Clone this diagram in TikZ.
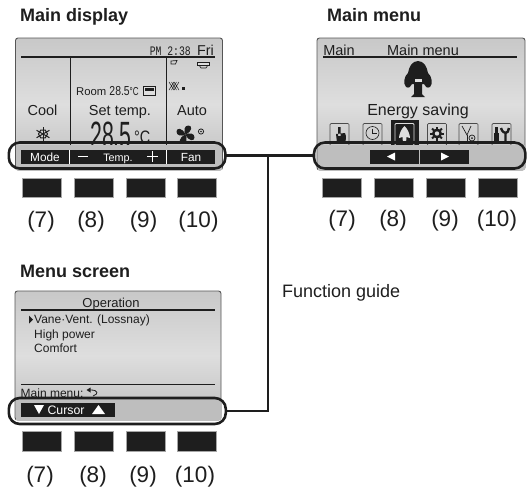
\documentclass[tikz,border=0pt]{standalone}
\usepackage{fontspec}
\setmainfont{Liberation Sans}
\newfontfamily\monof{Liberation Mono}
\newcommand{\fs}[1]{\fontsize{#1}{#1}\selectfont}
\definecolor{ink}{HTML}{1E1E1E}
\definecolor{lcdtop}{HTML}{C8C8C8}
\definecolor{lcdmid}{HTML}{DEDEDE}
\definecolor{lcdbot}{HTML}{BEBEBE}
\tikzset{
  screen/.style={rounded corners=2.5pt,draw=ink!75,line width=.9pt,outer sep=0pt,top color=lcdtop,bottom color=lcdbot,middle color=lcdmid,minimum width=#1,minimum height=132pt,inner sep=0pt},
  pill/.style={rounded corners=11pt,draw=ink,line width=2.6pt,outer sep=0pt,minimum height=26pt,minimum width=#1,inner sep=0pt},
  wire/.style={draw=ink,line width=2.6pt},
  rulethick/.style={draw=ink,line width=1.6pt},
  rulethin/.style={draw=ink,line width=.8pt},
  btn/.style={fill=ink,draw=gray!70,line width=.9pt,minimum width=39pt,minimum height=19.5pt,inner sep=0pt},
  captxt/.style={inner sep=0pt,font=\fs{22.5},text=ink,anchor=base},
  ttl/.style={inner sep=0pt,font=\bfseries\fs{18},text=ink,anchor=base west},
  lbl/.style={inner sep=0pt,font=\fs{14.5},text=ink,anchor=base},
  itemtxt/.style={inner sep=0pt,font=\fs{12},text=ink,anchor=base west},
  keytxt/.style={inner sep=0pt,font=\fs{11.8},text=white,anchor=base},
  barbox/.style={fill=ink,inner sep=0pt,outer sep=0pt,minimum height=14pt},
  icobox/.style={draw=ink!80,line width=.7pt,rounded corners=1pt,outer sep=0pt,minimum width=19pt,minimum height=22pt,inner sep=0pt,anchor=north},
}
\begin{document}
\begin{tikzpicture}[x=1pt,y=-1pt]
\useasboundingbox (0,0) rectangle (531,488);

%--------- Titles
\node[ttl] (t1) at (20,21) {Main display};
\node[ttl] (t2) at (327,21) {Main menu};
\node[ttl] (t3) at (20,277) {Menu screen};
\node[inner sep=0pt,font=\fs{18},text=ink,anchor=base west] (fg) at (282,297) {Function guide};

%--------- Main display screen
\node[screen=207pt,anchor=north west] (s1) at (15.5,38) {};
\draw[rulethick] (21,57) -- (215,57);
\draw[rulethin] (70.5,57) -- (70.5,148);
\draw[rulethin] (166.5,57) -- (166.5,148);
\node[inner sep=0pt,anchor=base east,text=ink] (clock) at (191,55) {\monof\fs{13}\scalebox{.75}[1]{PM 2:38}};
\node[inner sep=0pt,anchor=base east,text=ink,font=\fs{14.3}] (day) at (214,55) {Fri};
\node[inner sep=0pt,anchor=base west,text=ink,font=\fs{11.3}] (room) at (76,95.5) {Room \scalebox{.8}[1]{\fs{13}28.5}\scalebox{.7}[1]{\fs{11.5}°C}};
\draw[ink,line width=.8pt,fill=lcdmid] (143.5,86) rectangle (155.5,95);
\fill[ink] (145,87.5) rectangle (154,91);
\node[lbl] (cool) at (42.5,115) {Cool};
\node[lbl] (set) at (120,115) {Set temp.};
\node[lbl] (auto) at (192,115) {Auto};
\node[inner sep=0pt,anchor=base,text=ink,font=\fs{38}] (big) at (111,148) {\scalebox{.56}[1]{28.5}};
\node[inner sep=0pt,anchor=base west,text=ink,font=\fs{18}] (bigc) at (134,143) {\scalebox{.8}[1]{°C}};
% snowflake
\begin{scope}[shift={(43,134)}]
  \foreach \a in {0,60,120} \draw[ink,line width=1pt] (\a+90:7.5) -- (\a+270:7.5);
  \draw[ink,line width=1pt] (0:4.5) -- (60:4.5) -- (120:4.5) -- (180:4.5) -- (240:4.5) -- (300:4.5) -- cycle;
\end{scope}
% fan
\begin{scope}[shift={(185.5,134.5)}]
  \foreach \a in {0,90,180,270}
    \fill[ink,rotate=\a] (0,0) .. controls (-2,-4) and (-1.5,-9) .. (3,-9) .. controls (7,-9) and (7,-3) .. (0,0) -- cycle;
  \draw[ink,line width=.8pt] (15.5,-3) circle (2.6);
  \fill[ink] (15.5,-3) circle (.9);
\end{scope}
% wind and vane symbols
\draw[ink,line width=.7pt] (171,61) -- (177,60.5) -- (175.5,64) -- (171,64) -- cycle;
\draw[ink,line width=.8pt,fill=lcdmid] (197,62) rectangle (209,65);
\draw[ink,line width=.6pt] (199,65) -- (201,68) -- (206,68) -- (208,65);
\begin{scope}[shift={(175,86)}]
  \foreach \a in {0,1,2}
    \draw[ink,line width=.5pt] (-6+\a*2.5,-4) -- (-1+\a*2.5,4) (-1+\a*2.5,-4) -- (-6+\a*2.5,4);
\end{scope}
\fill[ink] (182,87) rectangle (185,90);

\fill[lcdbot] (16,145) rectangle (221.5,169.5);
\node[barbox,anchor=north west,minimum width=194pt] (bar1) at (21,149.5) {};
\draw[white,line width=.6pt] (69.5,149.5) -- (69.5,163.5) (166.5,149.5) -- (166.5,163.5);
\node[keytxt] (mode) at (45,161) {Mode};
\node[keytxt,font=\fs{10.8}] (temp) at (118,161) {Temp.};
\node[keytxt] (fan) at (191,161) {Fan};
\fill[white] (78,155.5) rectangle (88,157);
\fill[white] (147,155.5) rectangle (158,157);
\fill[white] (151.7,151) rectangle (153.3,162);
\node[pill=216.6pt,anchor=north west] (p1) at (8.8,142.5) {};

%--------- Main menu screen
\node[screen=208pt,anchor=north west] (s2) at (317,38) {};
\draw[rulethick] (323,57) -- (517,57);
\node[lbl] (mm0) at (339,55) {Main};
\node[lbl] (mm1) at (423,55) {Main menu};
\node[inner sep=0pt,font=\fs{16},text=ink,anchor=base] (es) at (418,115.5) {Energy saving};
% tree
\fill[ink] (418,61) .. controls (412,61) and (409,67) .. (408,73)
  .. controls (404,76) and (403,84) .. (406,87) .. controls (409,89) and (411,86) .. (412,84)
  -- (414,84) -- (414,94) .. controls (413,95) and (412,96) .. (411,97) -- (425,97)
  .. controls (424,96) and (423,95) .. (422,94) -- (422,84) -- (424,84)
  .. controls (425,86) and (427,89) .. (430,87) .. controls (433,84) and (432,76) .. (428,73)
  .. controls (427,67) and (424,61) .. (418,61) -- cycle;
\fill[lcdmid] (414.5,79) rectangle (421.5,82);
% icon row
\node[icobox] (i1) at (339.5,123.5) {};
\node[icobox] (i2) at (372.5,123.5) {};
\fill[ink] (390.5,119.5) rectangle (418.5,146);
\node[icobox,draw=lcdmid,line width=.9pt] (i3) at (404.5,123.5) {};
\node[icobox] (i4) at (437,123.5) {};
\node[icobox] (i5) at (468.5,123.5) {};
\node[icobox] (i6) at (501.5,123.5) {};
% hand
\fill[ink] (338,127) rectangle (340.5,136) (336,134) -- (345,133) .. controls (346.5,136) and (346,140) .. (345,143) -- (337,143) -- cycle;
% clock
\draw[ink,line width=.6pt] (372.5,133) circle (6.5);
\draw[ink,line width=.6pt] (372.5,128.5) -- (372.5,133) -- (376.5,133);
% selected: small tree
\fill[lcdmid] (404.5,126) .. controls (401,129) and (399,135) .. (399,138) -- (402.5,137) -- (403,143) -- (406,143) -- (406.5,137) -- (410,138) .. controls (410,135) and (408,129) .. (404.5,126) -- cycle;
% gear
\foreach \a in {0,45,...,315} \draw[ink,line width=2pt] (437,133.5) -- +(\a:7);
\fill[ink] (437,133.5) circle (5);
\fill[lcdmid] (437,133.5) circle (2.2);
% service
\draw[ink,line width=.7pt] (462,126) -- (467,135) -- (471,126);
\draw[ink,line width=.7pt] (467,135) -- (467,141);
\draw[ink,line width=.7pt] (472,138) circle (3);
\fill[ink] (472,138) circle (1);
% tools
\fill[ink] (495,127) rectangle (497.5,133);
\fill[ink] (494,133) rectangle (498.5,143);
\draw[ink,line width=2.4pt] (501,128) .. controls (502,132) and (505,133) .. (505.5,133) -- (505.5,143);
\draw[ink,line width=2.4pt] (509,128) .. controls (509,131) and (507,133) .. (505.5,133);

\fill[lcdbot] (317.5,145) rectangle (524.5,169.5);
\node[barbox,anchor=north west,minimum width=48.5pt] (bar2a) at (370,149.5) {};
\node[barbox,anchor=north west,minimum width=48.5pt] (bar2b) at (420,149.5) {};
\fill[white] (395,152.5) -- (395,160.5) -- (387,156.5) -- cycle;
\fill[white] (441,152.5) -- (441,160.5) -- (449,156.5) -- cycle;
\node[pill=211.4pt,anchor=north west] (p2) at (314,142.5) {};

%--------- Menu screen
\node[screen=206pt,minimum height=129pt,anchor=north west] (s3) at (15,291) {};
\draw[rulethick] (21,310) -- (215,310);
\draw[rulethin] (21,384) -- (215,384);
\node[inner sep=0pt,font=\fs{13},text=ink,anchor=base] (op) at (111,307.5) {Operation};
\fill[ink] (29,315.5) -- (29,323.5) -- (33,319.5) -- cycle;
\node[itemtxt] (v1) at (34,323) {Vane·Vent. (Lossnay)};
\node[itemtxt] (v2) at (34,338) {High power};
\node[itemtxt] (v3) at (34,352) {Comfort};
\node[itemtxt,font=\fs{12}] (mback) at (20.5,397) {Main menu:};
\draw[ink,line width=.8pt] (93,396) .. controls (99,394) and (98,390) .. (91,390) -- (89,390);
\fill[ink] (90.5,387.5) -- (90.5,392.5) -- (86.5,390) -- cycle;
\fill[lcdbot] (15.5,398.5) rectangle (220.5,419.5);
\node[barbox,anchor=north west,minimum width=94pt] (bar3) at (21,402.5) {};
\node[keytxt,font=\fs{12.3}] (cur) at (66,414) {Cursor};
\fill[white] (34,405) -- (44,405) -- (39,414) -- cycle;
\fill[white] (92,414) -- (105,414) -- (98.5,405) -- cycle;
\node[pill=217pt,anchor=north west] (p3) at (8.8,398) {};

%--------- Buttons and captions
\foreach \n/\x/\c in {a/42/(7),b/93.5/(8),c/145.5/(9),d/197/(10)} {
  \node[btn] (b1\n) at (\x,188) {};
  \node[btn] (b3\n) at (\x,441.4) {};
}
\foreach \n/\x/\c in {a/41/(7),b/91/(8),c/143.5/(9),d/198.5/(10)}
  \node[captxt] (c1\n) at (\x,227) {\c};
\foreach \n/\x/\c in {a/342/(7),b/394/(8),c/446/(9),d/497.5/(10)}
  \node[btn] (b2\n) at (\x,188) {};
\foreach \n/\x/\c in {a/342/(7),b/393/(8),c/445/(9),d/497/(10)}
  \node[captxt] (c2\n) at (\x,226) {\c};
\foreach \n/\x/\c in {a/40/(7),b/93/(8),c/143/(9),d/195/(10)}
  \node[captxt] (c3\n) at (\x,482) {\c};

%--------- Function-guide connectors
\coordinate (j) at (268,155.5);
\draw[wire] (p1.east) -- (j) -- (p2.west);
\draw[wire] (j) |- (p3.east);
\end{tikzpicture}
\end{document}
